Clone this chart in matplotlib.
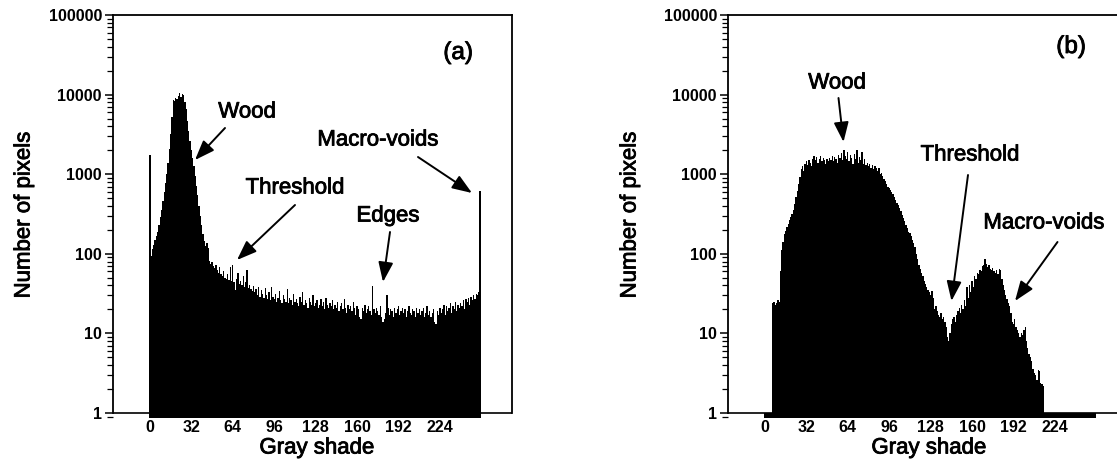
import numpy as np
import matplotlib
matplotlib.use("Agg")
import matplotlib.pyplot as plt
import matplotlib.patheffects as pe
from matplotlib.ticker import FixedLocator, FixedFormatter, LogLocator, NullFormatter

plt.rcParams['font.family'] = ['Liberation Sans', 'DejaVu Sans']

# ---------------- data ----------------
gray_shade = np.arange(256)

counts_a = [
    1750, 95, 115, 130, 150, 165, 190, 230, 290, 360, 460, 600, 780, 1000, 1400, 2100,
    3200, 5200, 8500, 8200, 9000, 8700, 9600, 10500, 9300, 10200, 9800, 8000, 6500, 4600, 3500, 2600,
    2000, 1600, 1250, 950, 720, 540, 400, 300, 230, 175, 145, 125, 135, 118, 82, 74,
    80, 70, 66, 73, 62, 58, 69, 56, 52, 61, 50, 48, 56, 47, 68, 45,
    72, 44, 35, 48, 58, 42, 46, 40, 52, 38, 44, 63, 37, 41, 36, 34,
    39, 33, 36, 30, 38, 29, 35, 31, 28, 37, 30, 27, 33, 26, 38, 29,
    27, 31, 25, 28, 34, 26, 24, 30, 27, 25, 36, 24, 28, 26, 23, 31,
    25, 27, 24, 22, 29, 25, 33, 23, 26, 24, 21, 28, 25, 23, 30, 22,
    24, 26, 21, 23, 27, 22, 25, 20, 28, 23, 21, 24, 22, 26, 20, 23,
    21, 25, 19, 22, 24, 20, 27, 21, 18, 23, 20, 22, 19, 25, 21, 17,
    22, 20, 16, 15, 21, 19, 23, 18, 20, 22, 19, 17, 39, 20, 18, 21,
    19, 17, 22, 16, 14, 15, 18, 30, 21, 17, 20, 19, 16, 21, 18, 20,
    22, 17, 19, 21, 18, 20, 16, 19, 22, 18, 17, 20, 19, 16, 21, 18,
    20, 17, 19, 21, 16, 18, 22, 17, 19, 16, 18, 20, 14, 13, 19, 17,
    21, 18, 20, 23, 17, 22, 19, 21, 24, 18, 22, 20, 25, 19, 23, 21,
    24, 22, 26, 20, 27, 25, 28, 23, 29, 26, 30, 27, 31, 30, 33, 620,
]

counts_b = [
    0, 0, 0, 0, 0, 0, 24, 25, 23, 24, 26, 25, 60, 110, 140, 175,
    195, 215, 240, 265, 290, 320, 360, 420, 520, 620, 760, 930, 1150, 1250, 1100, 1350,
    1450, 1300, 1500, 1400, 1250, 1550, 1700, 1500, 1650, 1400, 1550, 1700, 1450, 1600, 1500, 1350,
    1550, 1450, 1600, 1500, 1700, 1450, 1650, 1550, 1400, 1750, 1600, 1850, 1500, 2000, 1700, 1550,
    1900, 1450, 1750, 1600, 1350, 1800, 1550, 2000, 1400, 1650, 1500, 1900, 1350, 1550, 1300, 1400,
    1250, 1350, 1200, 1300, 1150, 1250, 1200, 1100, 1200, 1000, 1050, 950, 880, 820, 760, 700,
    680, 640, 600, 560, 520, 480, 440, 410, 380, 340, 310, 285, 255, 230, 210, 190,
    180, 165, 150, 135, 120, 100, 85, 72, 64, 58, 52, 46, 42, 38, 35, 33,
    30, 34, 28, 20, 22, 19, 17, 16, 18, 15, 16, 14, 12, 9, 8, 10,
    13, 15, 16, 14, 17, 19, 21, 18, 23, 20, 26, 22, 38, 28, 40, 33,
    45, 38, 52, 48, 58, 55, 62, 60, 70, 72, 85, 75, 68, 72, 65, 62,
    66, 60, 58, 63, 55, 65, 62, 48, 40, 35, 30, 27, 24, 22, 18, 14,
    13, 15, 12, 11, 10, 9, 10, 9.5, 11, 12, 8, 6.5, 5.5, 5, 4.5, 3.6,
    3.2, 3, 2.6, 3.5, 3.4, 2.4, 2.3, 2.2, 0, 0, 0, 0, 0, 0, 0, 0,
    0, 0, 0, 0, 0, 0, 0, 0, 0, 0, 0, 0, 0, 0, 0, 0,
    0, 0, 0, 0, 0, 0, 0, 0, 0, 0, 0, 0, 0, 0, 0, 0,
]

x_ticks = [0, 32, 64, 96, 128, 160, 192, 224]
y_ticks = [1, 10, 100, 1000, 10000, 100000]
y_tick_labels = ['1', '10', '100', '1000', '10000', '100000']

# ---------------- layout helpers ----------------
W, H = 1117, 466
fig = plt.figure(figsize=(W / 100, H / 100), dpi=100)
fig.patch.set_facecolor('white')

def fx(px):
    return px / W

def fy(py):
    return 1 - py / H

AX_TOP, AX_BOT = 15, 418.2
AX_W = 399
BASE = 0.86
XLIM = (-28.5, 279.6)
HEAVY = [pe.withStroke(linewidth=0.6, foreground='black')]


def setup(ax, counts, show_right):
    edges = np.append(gray_shade, 256) - 0.5
    vals = np.asarray(counts, dtype=float)
    vals = np.where(vals > 0, vals, 1.0)
    ax.set_yscale('log')
    ax.stairs(vals, edges, baseline=BASE, fill=True, color='black', lw=0, zorder=2)
    ax.axhline(1, color='black', lw=1.2, zorder=1)
    ax.set_xlim(*XLIM)
    ax.set_ylim(BASE, 1e5)
    for s in ['top', 'left', 'right']:
        ax.spines[s].set_linewidth(1.3)
    ax.spines['bottom'].set_visible(False)
    ax.spines['left'].set_bounds(1, 1e5)
    ax.spines['right'].set_bounds(1, 1e5)
    ax.spines['right'].set_visible(show_right)
    ax.yaxis.set_major_locator(FixedLocator(y_ticks))
    ax.yaxis.set_major_formatter(FixedFormatter(y_tick_labels))
    ax.yaxis.set_minor_locator(LogLocator(base=10, subs=np.arange(2, 10)))
    ax.yaxis.set_minor_formatter(NullFormatter())
    ax.tick_params(axis='y', which='major', direction='out', length=6, width=1.1,
                   pad=2, labelsize=11.5)
    ax.tick_params(axis='y', which='minor', direction='out', length=4.5, width=0.9)
    ax.set_xticks(x_ticks)
    ax.set_xticklabels([str(t) for t in x_ticks])
    ax.tick_params(axis='x', length=0, pad=1.5, labelsize=11.5)
    for lab in ax.get_xticklabels() + ax.get_yticklabels():
        lab.set_fontweight('bold')


ax_a = fig.add_axes([fx(113), fy(AX_BOT), AX_W / W, (AX_BOT - AX_TOP) / H])
ax_b = fig.add_axes([fx(728), fy(AX_BOT), AX_W / W, (AX_BOT - AX_TOP) / H])
setup(ax_a, counts_a, True)
setup(ax_b, counts_b, False)

LFS = 16

def label(px, py, s, fs=LFS, **kw):
    fig.text(fx(px), fy(py), s, fontsize=fs, ha='center', va='center',
             path_effects=HEAVY, **kw)

def arrow(x1, y1, x2, y2):
    fig.add_artist(matplotlib.patches.FancyArrowPatch(
        (fx(x1), fy(y1)), (fx(x2), fy(y2)), transform=fig.transFigure,
        arrowstyle='-|>,head_length=0.8,head_width=0.3', mutation_scale=15,
        color='black', lw=1.4, shrinkA=0, shrinkB=0))

# axis titles
label(24, 215, 'Number of pixels', rotation=90)
label(317, 448, 'Gray shade')
label(630, 215, 'Number of pixels', rotation=90)
label(929, 448, 'Gray shade')

# panel (a)
label(458, 53, '(a)', fs=17.5)
label(247, 112, 'Wood')
arrow(225, 128, 195, 160)
label(378, 140, 'Macro-voids')
arrow(418, 157, 472, 193)
label(295, 188, 'Threshold')
arrow(295, 205, 237, 260)
label(388, 216, 'Edges')
arrow(390, 232, 383, 282)

# panel (b)
label(1071, 47, '(b)', fs=17.5)
label(837, 83, 'Wood')
arrow(838.5, 98, 843.5, 142)
label(970, 155, 'Threshold')
arrow(968, 175, 951.5, 301)
label(1044, 223, 'Macro-voids')
arrow(1057.5, 242, 1015, 301)

fig.savefig('out.png', dpi=100, facecolor='white')
